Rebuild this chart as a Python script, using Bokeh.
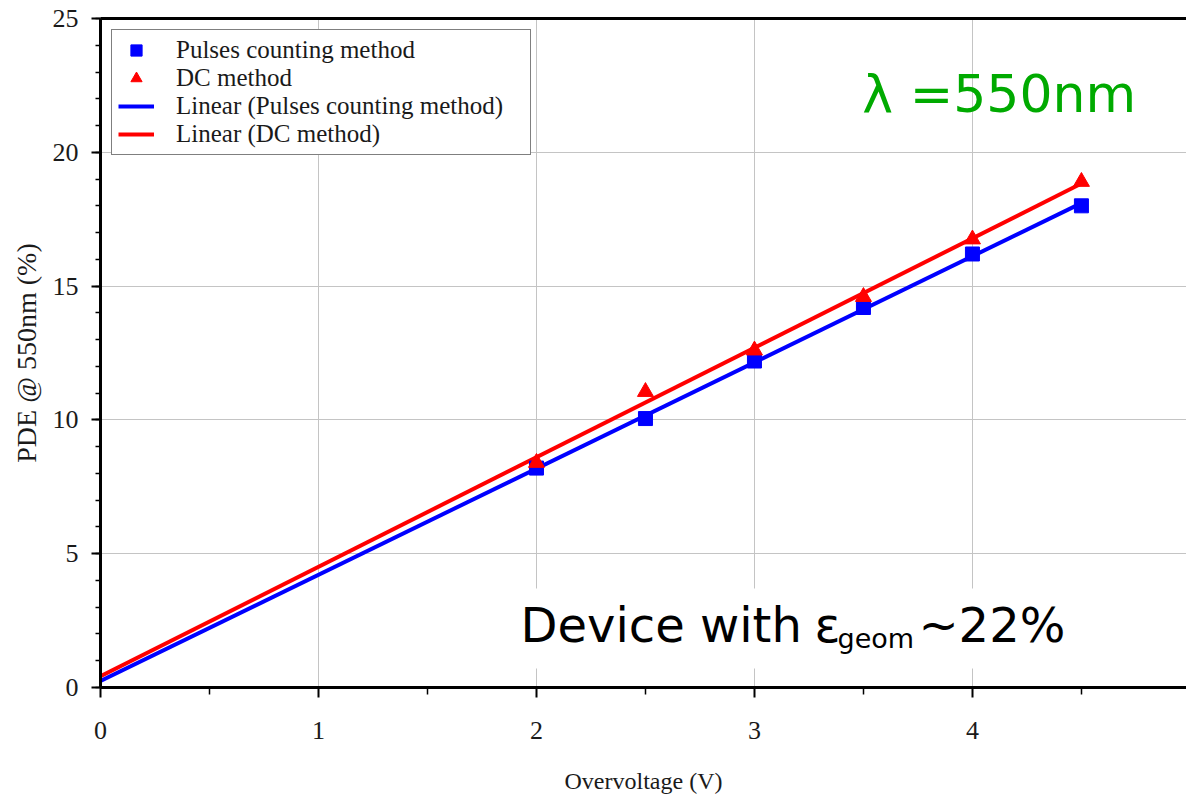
import numpy as np
from bokeh.plotting import figure
from bokeh.models import (Range1d, FixedTicker, LinearAxis, Legend, LegendItem,
                          Label, BoxAnnotation)
from bokeh.embed import file_html
from bokeh.resources import INLINE

# Measured photon detection efficiency vs overvoltage
overvoltage = [2.0, 2.5, 3.0, 3.5, 4.0, 4.5]
pde_pulses = [8.2, 10.05, 12.2, 14.2, 16.2, 18.0]
pde_dc = [8.4, 11.05, 12.6, 14.6, 16.75, 18.9]

x_ticks = [0, 1, 2, 3, 4]
x_minor_ticks = [0.5, 1.5, 2.5, 3.5, 4.5]
y_ticks = [0, 5, 10, 15, 20, 25]
y_minor_ticks = list(range(0, 26))

SERIF = "Liberation Serif"
SANS = "DejaVu Sans"


def linear_trend(x, y):
    """Least-squares straight line, evaluated from 0 V to the last point."""
    slope, intercept = np.polyfit(x, y, 1)
    xs = [0.0, max(x)]
    return xs, [intercept + slope * v for v in xs]


p = figure(width=1186, height=799,
           x_range=Range1d(0, 4.982), y_range=Range1d(0, 25),
           output_backend="svg", toolbar_location=None,
           min_border_left=100, min_border_right=0,
           min_border_top=18, min_border_bottom=112,
           background_fill_color="white", border_fill_color="white")
p.outline_line_color = None

# axes
p.xaxis.ticker = FixedTicker(ticks=x_ticks, minor_ticks=x_minor_ticks)
p.yaxis.ticker = FixedTicker(ticks=y_ticks, minor_ticks=y_minor_ticks)
p.xaxis.axis_label = "Overvoltage (V)"
p.yaxis.axis_label = "PDE @ 550nm (%)"
for ax in (p.xaxis[0], p.yaxis[0]):
    ax.axis_line_width = 3
    ax.axis_line_color = "black"
    ax.major_tick_line_width = 2
    ax.major_tick_line_color = "black"
    ax.minor_tick_line_width = 1.5
    ax.minor_tick_line_color = "black"
    ax.major_tick_in = 0
    ax.minor_tick_in = 0
    ax.major_label_text_font = SERIF
    ax.major_label_text_font_size = "26px"
    ax.major_label_text_color = "#1a1a1a"
    ax.axis_label_text_font = SERIF
    ax.axis_label_text_font_style = "normal"
    ax.axis_label_text_color = "#1a1a1a"
p.xaxis.axis_label_text_font_size = "24px"
p.yaxis.axis_label_text_font_size = "28px"
p.xaxis.major_tick_out = 10
p.xaxis.minor_tick_out = 7
p.xaxis.major_label_standoff = 24
p.xaxis.axis_label_standoff = 26
p.yaxis.major_tick_out = 9
p.yaxis.minor_tick_out = 5
p.yaxis.major_label_standoff = 13
p.yaxis.axis_label_standoff = 8

# heavy rule along the top of the plot area
top_axis = LinearAxis(ticker=FixedTicker(ticks=[]), axis_line_width=3,
                      axis_line_color="black",
                      major_tick_line_color=None, minor_tick_line_color=None,
                      major_label_text_font_size="0px")
p.add_layout(top_axis, "above")

# grid
p.xgrid.ticker = FixedTicker(ticks=x_ticks)
p.ygrid.ticker = FixedTicker(ticks=y_ticks)
p.grid.grid_line_color = "#c4c4c4"
p.grid.grid_line_width = 1

# trend lines
fx_p, fy_p = linear_trend(overvoltage, pde_pulses)
fx_d, fy_d = linear_trend(overvoltage, pde_dc)
line_p = p.line(fx_p, fy_p, line_color="#0000ff", line_width=4)
line_d = p.line(fx_d, fy_d, line_color="#ff0000", line_width=4)

# measured points
sq = p.scatter(overvoltage, pde_pulses, marker="square", size=14,
               fill_color="#0000ff", line_color="#0000ff")
tri = p.scatter(overvoltage, pde_dc, marker="triangle", size=16,
                fill_color="#ff0000", line_color="#ff0000")

legend = Legend(items=[
    LegendItem(label="Pulses counting method", renderers=[sq]),
    LegendItem(label="DC method", renderers=[tri]),
    LegendItem(label="Linear (Pulses counting method)", renderers=[line_p]),
    LegendItem(label="Linear (DC method)", renderers=[line_d]),
], location="top_left", margin=11, padding=6, spacing=0,
    glyph_width=36, glyph_height=28, label_height=28, label_standoff=22,
    label_width=348, label_text_font=SERIF, label_text_font_size="25px",
    label_text_color="#1a1a1a",
    border_line_color="black", border_line_width=1.5,
    background_fill_color="white", background_fill_alpha=1)
p.add_layout(legend)

# wavelength note
p.add_layout(Label(x=3.495, y=22.16, text="λ =550nm", text_font=SANS,
                   text_font_size="52px", text_color="#00aa00",
                   text_baseline="alphabetic"))

# device note on a white patch
p.add_layout(BoxAnnotation(left=1.88, right=4.45, bottom=0.71, top=3.70,
                           fill_color="white", fill_alpha=1, line_color=None))
p.add_layout(Label(x=1.927, y=2.317, text="Device with", text_font=SANS,
                   text_font_size="48px", text_color="black",
                   text_baseline="alphabetic"))
p.add_layout(Label(x=3.275, y=2.317, text="ε", text_font=SANS,
                   text_font_size="48px", text_color="black",
                   text_baseline="alphabetic"))
p.add_layout(Label(x=3.381, y=1.83, text="geom", text_font=SANS,
                   text_font_size="27px", text_color="black",
                   text_baseline="alphabetic"))
p.add_layout(Label(x=3.752, y=2.317, text="~22%", text_font=SANS,
                   text_font_size="48px", text_color="black",
                   text_baseline="alphabetic"))

open("out.html", "w").write(file_html(p, INLINE))
